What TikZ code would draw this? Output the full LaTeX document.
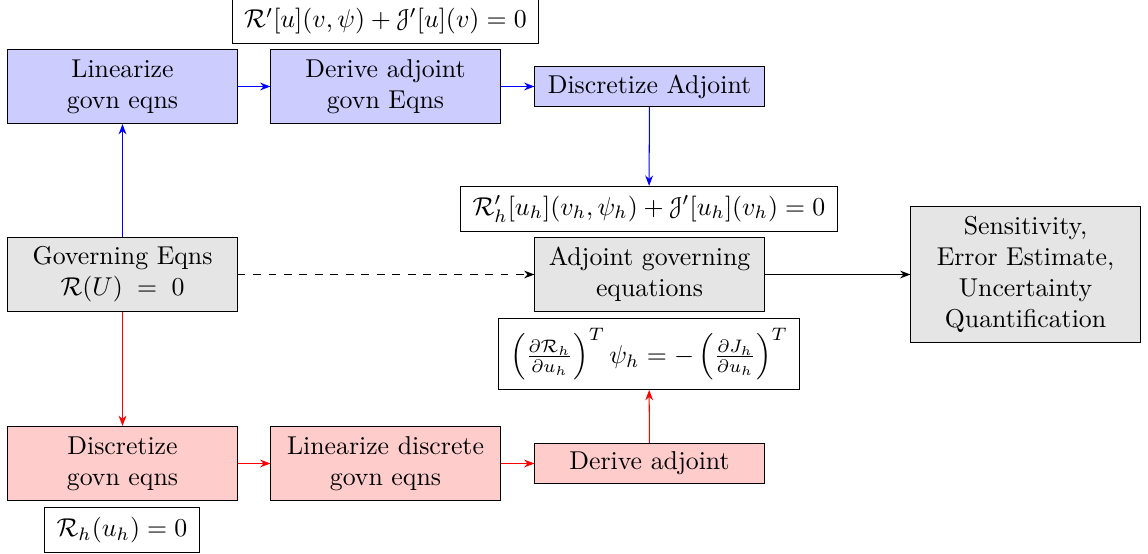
\documentclass[tikz,border=0pt]{standalone}
\usetikzlibrary{arrows.meta}
\usepackage[mathscr]{eucal}
\begin{document}
\begin{tikzpicture}[x=0.3876pt,y=-0.3876pt,
  box/.style={draw, minimum width=88.8pt, minimum height=28.7pt, align=center, inner sep=2pt},
  sbox/.style={draw, minimum width=88.8pt, minimum height=15.5pt, align=center, inner sep=2pt},
  eqbox/.style={draw, fill=white, inner xsep=4.6pt, inner ysep=3.6pt},
  bluebox/.style={fill=blue!20},
  redbox/.style={fill=red!20},
  graybox/.style={fill=gray!20},
  tip/.style={-{Stealth[length=4pt,width=3pt]}},
  bl/.style={draw=blue, tip},
  rd/.style={draw=red, tip},
  bk/.style={draw=black, tip}]
\useasboundingbox (0,0) rectangle (1148,554);
% top row
\node[box,bluebox] (lin) at (122.5,86.5) {Linearize\\govn eqns};
\node[box,bluebox] (der) at (385.5,86.5) {Derive adjoint\\govn Eqns};
\node[sbox,bluebox] (disA) at (649.5,86.5) {Discretize Adjoint};
\node[eqbox] (eq1) at (385.5,21) {$\mathcal{R}'[u](v,\psi)+\mathscr{J}'[u](v)=0$};
\node[eqbox] (eq2) at (649,209) {$\mathcal{R}'_h[u_h](v_h,\psi_h)+\mathscr{J}'[u_h](v_h)=0$};
% middle row
\node[box,graybox] (gov) at (122.5,274.5) {Governing Eqns\\$\mathcal{R}(U)\;=\;0$};
\node[box,graybox] (adj) at (649.5,274.5) {Adjoint governing\\equations};
\node[box,graybox, minimum height=52.7pt] (sens) at (1025.5,274.5) {Sensitivity,\\Error Estimate,\\Uncertainty\\Quantification};
\node[eqbox] (eq3) at (649,354) {$\left(\frac{\partial\mathcal{R}_h}{\partial u_h}\right)^T\psi_h=-\left(\frac{\partial J_h}{\partial u_h}\right)^T$};
% bottom row
\node[box,redbox] (dis) at (122.5,463.5) {Discretize\\govn eqns};
\node[box,redbox] (lind) at (385.5,463.5) {Linearize discrete\\govn eqns};
\node[sbox,redbox] (dera) at (649.5,463.5) {Derive adjoint};
\node[eqbox] (eq4) at (122,530) {$\mathcal{R}_h(u_h)=0$};
% connectors
\draw[bl] (gov) -- (lin);
\draw[bl] (lin) -- (der);
\draw[bl] (der) -- (disA);
\draw[bl] (disA) -- (eq2);
\draw[bk, dashed] (gov) -- (adj);
\draw[bk] (adj) -- (sens);
\draw[rd] (gov) -- (dis);
\draw[rd] (dis) -- (lind);
\draw[rd] (lind) -- (dera);
\draw[rd] (dera) -- (eq3);
\end{tikzpicture}
\end{document}
